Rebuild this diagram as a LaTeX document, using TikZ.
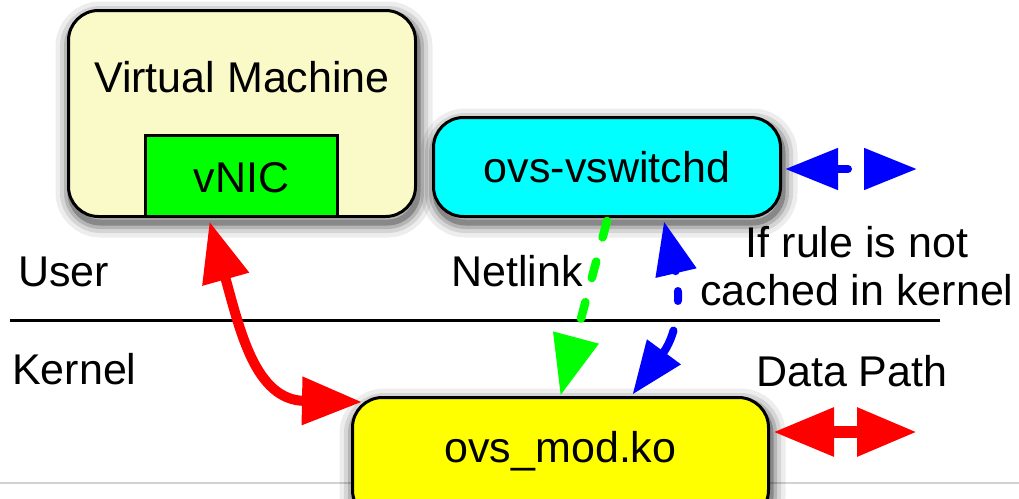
\documentclass[tikz,border=0pt]{standalone}
\usepackage{fontspec}
\setmainfont{Liberation Sans}
\usetikzlibrary{arrows.meta}

\definecolor{vmcream}{RGB}{250,250,200}
\definecolor{nicgreen}{RGB}{0,255,0}
\definecolor{daemoncyan}{RGB}{0,255,255}
\definecolor{modyellow}{RGB}{255,255,0}
\definecolor{pathred}{RGB}{255,0,0}
\definecolor{upcallblue}{RGB}{0,0,255}

\tikzset{
  % soft drop shadow built from stacked translucent strokes
  softshadow/.style={
    preaction={draw=black, draw opacity=0.07, line width=30pt, transform canvas={shift={(2pt,-6pt)}}},
    preaction={draw=black, draw opacity=0.10, line width=21pt, transform canvas={shift={(2pt,-6pt)}}},
    preaction={draw=black, draw opacity=0.15, line width=13pt, transform canvas={shift={(2pt,-6pt)}}},
    preaction={draw=black, draw opacity=0.25, line width=6pt,  transform canvas={shift={(2pt,-6pt)}}}
  },
  box/.style={draw=black, line width=3pt, rounded corners=30pt, inner sep=0pt, outer sep=0pt, anchor=base},
  plainbox/.style={draw=black, line width=3pt, inner sep=0pt, outer sep=0pt, anchor=base},
  tag/.style={inner sep=0pt, anchor=base west},
  ctag/.style={inner sep=0pt, anchor=base},
  redtip/.tip={Triangle[length=60pt,width=46pt]},
  greentip/.tip={Triangle[length=60pt,width=45pt]},
  bluetip/.tip={Triangle[length=53pt,width=40pt]},
  redflow/.style={draw=pathred, line width=10pt, {redtip}-{redtip}},
  netlinkflow/.style={draw=nicgreen, line width=8.5pt, line cap=round, -{greentip}},
  upcall/.style={draw=upcallblue, line width=8pt, line cap=round, {bluetip}-{bluetip}}
}

\begin{document}
\begin{tikzpicture}[x=1pt, y=-1pt, font=\fontsize{43pt}{49pt}\selectfont]
\useasboundingbox (0,0) rectangle (1019,498);
\clip (0,0) rectangle (1019,498);

% faint page edge behind the kernel module
\draw[gray!35, line width=1.5pt] (0,483) -- (1019,483);

% boxes
\node[box, softshadow, fill=vmcream, minimum width=347pt, text height=81.5pt, text depth=124.5pt]
  (vm) at (242,92) {Virtual Machine};
\node[plainbox, fill=nicgreen, minimum width=192pt, text height=56.5pt, text depth=24.5pt]
  (vnic) at (241.5,192) {vNIC};
\node[box, softshadow, fill=daemoncyan, minimum width=347pt, text height=64.5pt, text depth=34.5pt]
  (vsw) at (607,182) {ovs-vswitchd};
\node[box, softshadow, fill=modyellow, minimum width=416pt, text height=64.5pt, text depth=58pt]
  (mod) at (560.5,462) {ovs\_mod.ko};

% user / kernel boundary
\coordinate (sepL) at (10,320);
\coordinate (sepR) at (940,320);
\draw[line width=3pt] (sepL) -- (sepR);

% labels
\node[tag] (user) at (18,286) {User};
\node[tag] (netlink) at (451,286) {Netlink};
\node[tag] (kernel) at (12,384) {Kernel};
\node[tag] (datapath) at (756,386) {Data Path};
\node[ctag] (rule1) at (857,257) {If rule is not};
\node[ctag] (rule2) at (857,305) {cached in kernel};

% vNIC <-> kernel module
\draw[redflow] ([xshift=-32pt,yshift=-5pt]vnic.south)
  .. controls (240,330) and (255,400) .. ([xshift=9.5pt,yshift=-4.5pt]mod.north west);

% netlink: vswitchd -> kernel module
\draw[netlinkflow, dash pattern=on 17pt off 25pt]
  ([yshift=-4.5pt]vsw.south) -- ([yshift=2pt]mod.north);

% upcall between kernel module and vswitchd
\draw[upcall, dash pattern=on 0pt off 20pt on 10pt off 30pt on 60pt]
  ([xshift=57pt,yshift=-5pt]vsw.south)
  .. controls (680,290) and (680,330) .. ([xshift=72pt,yshift=3pt]mod.north);

% controller link
\coordinate (ctlEnd) at (917,169);
\draw[upcall, dash pattern=on 12pt off 30pt]
  ([xshift=4.5pt,yshift=-2pt]vsw.east) -- (ctlEnd);

% data path wire
\coordinate (wireEnd) at (917,432);
\draw[redflow, line width=12pt, {Triangle[length=61pt,width=46pt]}-{redtip}]
  ([xshift=4.5pt,yshift=26.75pt]mod.east) -- (wireEnd);
\end{tikzpicture}
\end{document}
